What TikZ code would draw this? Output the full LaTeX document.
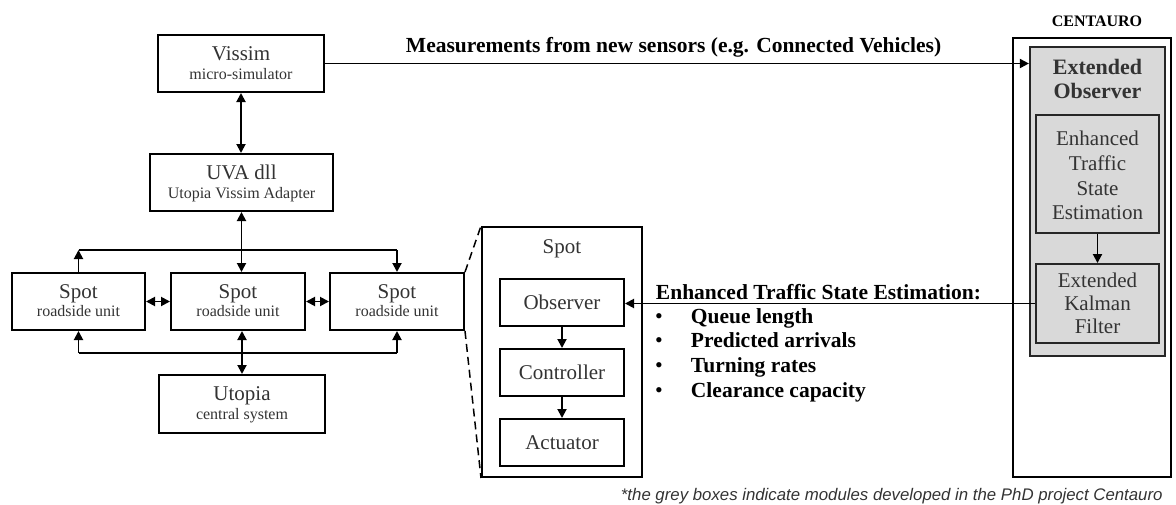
\documentclass[tikz,border=0pt]{standalone}
\usepackage{fontspec}
\setmainfont{Liberation Serif}
\setsansfont{Liberation Sans}
\usetikzlibrary{arrows.meta}
\definecolor{txt}{HTML}{333333}
\definecolor{greyfill}{HTML}{D9D9D9}
\begin{document}
\begin{tikzpicture}[x=1pt,y=-1pt,
  >={Triangle[length=9pt,width=9pt]},
  every path/.style={line width=1.9pt},
  box/.style={draw=black, line width=2pt, fill=white, inner sep=0pt},
  gbox/.style={draw=black!85, line width=2.2pt, fill=greyfill, inner sep=0pt},
  ttl/.style={font=\fontsize{21}{24}\selectfont, text=txt, inner sep=0pt, anchor=base},
  sub/.style={font=\fontsize{16}{18}\selectfont, text=txt, inner sep=0pt, anchor=base},
  bld/.style={font=\bfseries\fontsize{21.5}{24}\selectfont, inner sep=0pt, anchor=base west},
  gbld/.style={font=\bfseries\fontsize{22}{24}\selectfont, text=txt, inner sep=0pt, anchor=base},
  blt/.style={font=\fontsize{22}{24}\selectfont, inner sep=0pt, anchor=base},
  dsh/.style={dash pattern=on 8pt off 5pt, line width=1.5pt},
]
\useasboundingbox (0,0) rectangle (1176,504);

% left boxes
\node[box, minimum width=166, minimum height=57] (vissim) at (241,63.5) {};
\node[box, minimum width=183, minimum height=57] (uva) at (241.5,182.5) {};
\node[box, minimum width=133, minimum height=57] (spot1) at (78.5,301.5) {};
\node[box, minimum width=134, minimum height=57] (spot2) at (238,301.5) {};
\node[box, minimum width=134, minimum height=57] (spot3) at (397,301.5) {};
\node[box, minimum width=166, minimum height=58] (utopia) at (242,404) {};

\node[ttl] (vissim-t) at (241,60) {Vissim};
\node[sub] (vissim-s) at (241,79) {micro-simulator};
\node[ttl] (uva-t) at (241.5,179) {UVA dll};
\node[sub] (uva-s) at (241.5,198) {Utopia Vissim Adapter};
\node[ttl] (spot1-t) at (78.5,298) {Spot};
\node[sub] (spot1-s) at (78.5,316) {roadside unit};
\node[ttl] (spot2-t) at (238,298) {Spot};
\node[sub] (spot2-s) at (238,316) {roadside unit};
\node[ttl] (spot3-t) at (397,298) {Spot};
\node[sub] (spot3-s) at (397,316) {roadside unit};
\node[ttl] (utopia-t) at (242,400) {Utopia};
\node[sub] (utopia-s) at (242,419) {central system};

% spot detail
\node[box, minimum width=160, minimum height=250] (spotbig) at (562,352) {};
\node[ttl] (spotbig-t) at (562,253) {Spot};
\node[box, minimum width=124, minimum height=47, font=\fontsize{21}{24}\selectfont, text=txt] (observer) at (562,302.5) {Observer};
\node[box, minimum width=124, minimum height=47, font=\fontsize{21}{24}\selectfont, text=txt] (controller) at (562,372.5) {Controller};
\node[box, minimum width=124, minimum height=47, font=\fontsize{21}{24}\selectfont, text=txt] (actuator) at (562,442.5) {Actuator};

% centauro
\node[box, line width=1.6pt, minimum width=158, minimum height=439] (centauro) at (1092,257.5) {};
\node[font=\bfseries\fontsize{16}{18}\selectfont, inner sep=0pt, anchor=base] (centauro-t) at (1097,26) {CENTAURO};
\node[gbox, minimum width=135, minimum height=309] (extobs) at (1097.5,201.5) {};
\node[gbld] (extobs-t1) at (1097.5,74) {Extended};
\node[gbld] (extobs-t2) at (1097.5,98) {Observer};
\node[gbox, line width=1.9pt, minimum width=123, minimum height=118] (etse) at (1097.5,174) {};
\node[ttl] (etse-1) at (1097.5,145) {Enhanced};
\node[ttl] (etse-2) at (1097.5,170) {Traffic};
\node[ttl] (etse-3) at (1097.5,195) {State};
\node[ttl] (etse-4) at (1097.5,219) {Estimation};
\node[gbox, line width=1.9pt, minimum width=123, minimum height=79] (ekf) at (1097.5,303.5) {};
\node[ttl] (ekf-1) at (1097.5,287) {Extended};
\node[ttl] (ekf-2) at (1097.5,310) {Kalman};
\node[ttl] (ekf-3) at (1097.5,333) {Filter};

% annotations
\node[bld] (meas) at (405,52) {Measurements from new sensors (e.g. Connected Vehicles)};
\node[bld] (ets) at (655,299) {Enhanced Traffic State Estimation:};
\node[blt] (b1) at (659,323) {\textbullet};
\node[blt] (b2) at (659,347) {\textbullet};
\node[blt] (b3) at (659,372) {\textbullet};
\node[blt] (b4) at (659,397) {\textbullet};
\node[bld] (i1) at (690,323) {Queue length};
\node[bld] (i2) at (690,347) {Predicted arrivals};
\node[bld] (i3) at (690,372) {Turning rates};
\node[bld] (i4) at (690,397) {Clearance capacity};
\node[font=\sffamily\itshape\fontsize{16.8}{18}\selectfont, text=txt, inner sep=0pt, anchor=base west] (foot) at (620,500) {*the grey boxes indicate modules developed in the PhD project Centauro};

% connectors left
\coordinate (busT) at (0,250);
\coordinate (busB) at (0,353);
\draw[<->] (vissim.south) -- (vissim.south |- uva.north);
\draw[->] (spot1.north) -- (spot1.north |- busT);
\draw (spot1.north |- busT) -- (spot3.north |- busT);
\draw[->] (spot3.north |- busT) -- (spot3.north);
\draw[<->] (uva.south) -- (uva.south |- spot2.north);
\draw[->] (spot1.south |- busB) -- (spot1.south);
\draw (spot1.south |- busB) -- (spot3.south |- busB);
\draw[->] (spot3.south |- busB) -- (spot3.south);
\draw[<->] (utopia.north |- spot2.south) -- (utopia.north);
\draw[<->] (spot1.east) -- (spot2.west);
\draw[<->] (spot2.east) -- (spot3.west);
\draw[dsh] (spot3.north east) -- (spotbig.north west);
\draw[dsh] (spot3.south east) -- (spotbig.south west);

% spot chain
\draw[->] (observer) -- (controller);
\draw[->] (controller) -- (actuator);

% long connectors
\draw[->] (vissim.east) -- (vissim.east -| extobs.west);
\draw[->] (ekf.west) -- (ekf.west -| observer.east);
\draw[->] (etse) -- (ekf);
\end{tikzpicture}
\end{document}
